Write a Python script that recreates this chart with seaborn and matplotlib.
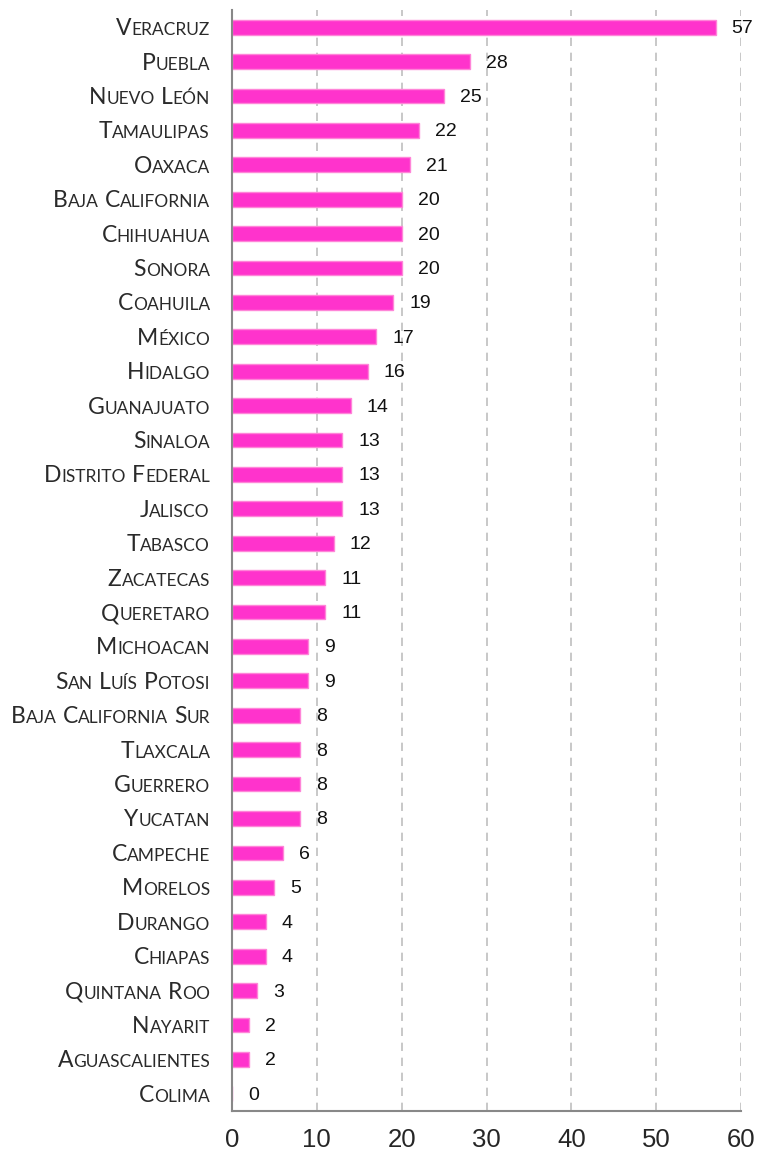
import numpy as np
import pandas as pd
import seaborn as sns
import matplotlib.pyplot as plt

# data
states = [
    "Veracruz", "Puebla", "Nuevo León", "Tamaulipas", "Oaxaca", "Baja California",
    "Chihuahua", "Sonora", "Coahuila", "México", "Hidalgo", "Guanajuato", "Sinaloa",
    "Distrito Federal", "Jalisco", "Tabasco", "Zacatecas", "Queretaro", "Michoacan",
    "San Luís Potosi", "Baja California Sur", "Tlaxcala", "Guerrero", "Yucatan",
    "Campeche", "Morelos", "Durango", "Chiapas", "Quintana Roo", "Nayarit",
    "Aguascalientes", "Colima",
]
counts = [57, 28, 25, 22, 21, 20, 20, 20, 19, 17, 16, 14, 13, 13, 13, 12, 11, 11,
          9, 9, 8, 8, 8, 8, 6, 5, 4, 4, 3, 2, 2, 0]
x_ticks = [0, 10, 20, 30, 40, 50, 60]

df = pd.DataFrame({"state": states, "count": counts})

sns.set_style("white")
plt.rcParams['font.family'] = ['Liberation Sans', 'DejaVu Sans']

fig = plt.figure(figsize=(7.59, 11.57), dpi=100)
ax = fig.add_axes([0.3057, 0.0398, 0.6706, 0.9516])

sns.barplot(data=df, x="count", y="state", orient="h", color="#FF33CC",
            saturation=1, width=0.43, edgecolor="#FF85D8", linewidth=1, ax=ax)

ax.set_xlim(0, 60)
ax.set_ylim(len(states) - 0.5, -0.5)
ax.set_xticks(x_ticks)
ax.set_xticklabels([str(t) for t in x_ticks], fontsize=18.5)
ax.set_yticks(np.arange(-0.5, len(states), 1))
ax.set_yticklabels([])
ax.set_xlabel("")
ax.set_ylabel("")

for s in ["top", "right"]:
    ax.spines[s].set_visible(False)
for s in ["left", "bottom"]:
    ax.spines[s].set_color("#888888")
    ax.spines[s].set_linewidth(1.5)
ax.tick_params(axis="both", direction="out", length=6, width=1.3, color="#888888")
ax.tick_params(axis="x", pad=6)
ax.xaxis.grid(True, linestyle=(0, (5, 4)), color="#BFBFBF", linewidth=1.2)
ax.set_axisbelow(True)

# value labels
for i, v in enumerate(counts):
    ax.annotate(str(v), xy=(v, i), xytext=(16, -6), textcoords="offset pixels",
                ha="left", va="baseline", fontsize=14, color="#111111")

# small-caps category labels, built right to left
renderer = fig.canvas.get_renderer()
big, small = 16.5, 12.5
space_w = 6
for i, name in enumerate(states):
    runs = []
    for wi, word in enumerate(name.split(" ")):
        if wi > 0:
            runs.append(None)
        cur, cur_small = "", None
        for ch in word:
            is_small = ch.islower()
            if cur and is_small != cur_small:
                runs.append((cur, cur_small))
                cur = ""
            cur += ch.upper()
            cur_small = is_small
        runs.append((cur, cur_small))
    x = -22
    for r in reversed(runs):
        if r is None:
            x -= space_w
            continue
        txt, is_small = r
        t = ax.annotate(txt, xy=(0, i), xycoords=("axes fraction", "data"),
                        xytext=(x, -8), textcoords="offset pixels",
                        ha="right", va="baseline", color="#2a2a2a",
                        fontsize=small if is_small else big, family="Lato")
        x -= t.get_window_extent(renderer).width

fig.savefig("out.png", dpi=100)
